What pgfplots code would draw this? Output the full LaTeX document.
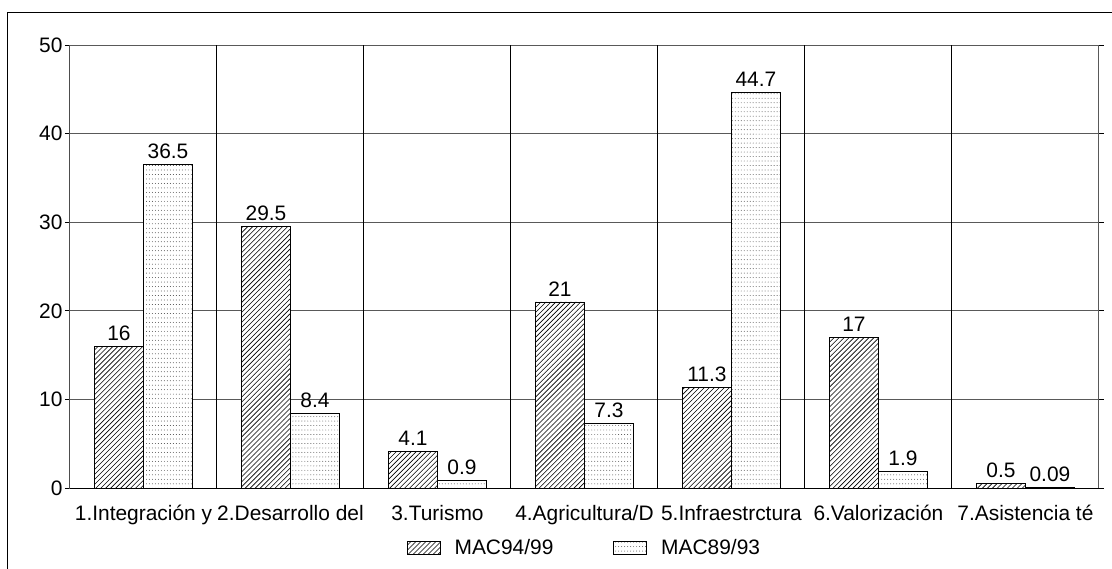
\documentclass[border=0pt]{standalone}
\usepackage{fontspec}
\setmainfont{Liberation Sans}
\usepackage{pgfplots}
\pgfplotsset{compat=1.18}
\usetikzlibrary{patterns}

% hatch and dot fills as in the original sheet
\pgfdeclarepatternformonly{hatch}{\pgfqpoint{-1pt}{-1pt}}{\pgfqpoint{6pt}{6pt}}{\pgfqpoint{5pt}{5pt}}{
  \pgfsetlinewidth{0.6pt}
  \pgfpathmoveto{\pgfqpoint{0pt}{0pt}}
  \pgfpathlineto{\pgfqpoint{5.1pt}{5.1pt}}
  \pgfusepath{stroke}}
\pgfdeclarepatternformonly{finedots}{\pgfqpoint{-1pt}{-1pt}}{\pgfqpoint{1pt}{1pt}}{\pgfqpoint{3pt}{4.5pt}}{
  \pgfpathcircle{\pgfqpoint{0pt}{0pt}}{0.45pt}
  \pgfusepath{fill}}

\newcommand\lbl{\fontsize{21}{25}\selectfont}

\begin{document}
\begin{tikzpicture}
  \useasboundingbox (-70bp,-81bp) rectangle (1042bp,488bp);
  \draw[line width=1bp] (-62bp,-82bp) -- (-62bp,475bp) -- (1043bp,475bp);
  \begin{axis}[
      scale only axis,
      width=1029bp,
      height=443bp,
      xmin=-0.5, xmax=6.5,
      ymin=0, ymax=50,
      ytick={0,10,...,50},
      xtick={0,...,6},
      xticklabels={1.Integración y, 2.Desarrollo del, 3.Turismo,
        4.Agricultura/D, 5.Infraestrctura, 6.Valorización, 7.Asistencia té},
      x tick style={draw=none},
      y tick style={black, line width=0.8bp},
      tick align=outside,
      major tick length=5bp,
      ymajorgrids,
      major grid style={gray!70!black, line width=1bp},
      extra x ticks={0.5,1.5,...,5.5},
      extra x tick labels={},
      extra x tick style={grid=major, major grid style={black, line width=1bp},
        tick style={black, line width=1bp}, major tick length=5bp},
      axis line style={gray!70!black, line width=1bp},
      /pgf/number format/assume math mode=true,
      ticklabel style={font=\lbl},
      xticklabel style={yshift=-9bp},
      yticklabel style={xshift=1bp},
      ybar,
      bar width=0.333,
      nodes near coords={\pgfmathprintnumber[fixed, precision=2]{\pgfplotspointmeta}},
      every node near coord/.append style={font=\lbl, black, yshift=2bp},
      legend columns=2,
      legend style={draw=none, at={(0.5,-0.1354)}, anchor=center,
        font=\lbl,
        /tikz/every even column/.append style={column sep=58bp}},
      legend image code/.code={
        \draw[#1] (0bp,-6.5bp) rectangle (33bp,6.5bp);},
    ]
    \addplot[draw=black, line width=0.8bp, fill=white, postaction={pattern=hatch},
      bar shift=-0.1667] coordinates {
      (0,16) (1,29.5) (2,4.1) (3,21) (4,11.3) (5,17) (6,0.5)
    };
    \addlegendentry{\hspace{12bp}MAC94/99}
    \addplot[draw=black, line width=0.8bp, fill=white,
      postaction={pattern=finedots, pattern color=black!75},
      bar shift=0.1667] coordinates {
      (0,36.5) (1,8.4) (2,0.9) (3,7.3) (4,44.7) (5,1.9) (6,0.09)
    };
    \addlegendentry{\hspace{12bp}MAC89/93}
    \draw[black, line width=1bp] (rel axis cs:0,1) -- (rel axis cs:0,0) -- (rel axis cs:1,0);
  \end{axis}
\end{tikzpicture}
\end{document}
